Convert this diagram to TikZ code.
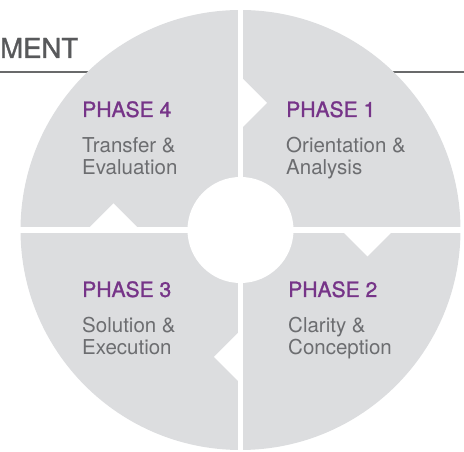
\documentclass[tikz,border=0pt]{standalone}
\usepackage{fontspec}
\setmainfont{TeX Gyre Heros}
\newfontfamily\medfont[FakeBold=1.2]{TeX Gyre Heros}
\usetikzlibrary{positioning}

\definecolor{quadgray}{RGB}{220,221,223}
\definecolor{phasepurple}{RGB}{118,52,136}
\definecolor{textgray}{RGB}{108,109,112}
\definecolor{headgray}{RGB}{88,89,91}

\begin{document}
\begin{tikzpicture}[x=0.03cm, y=0.03cm]

\tikzstyle{phase} = [anchor=base west, inner sep=0pt, text=phasepurple, font=\medfont\fontsize{18}{20}\selectfont]
\tikzstyle{desc} = [anchor=base west, inner sep=0pt, text=textgray, align=left, font=\fontsize{17.5}{18.8}\selectfont]
\tikzstyle{gap} = [white, line width=0.165cm]

\useasboundingbox (-240.5,-222) rectangle (223.5,230);

% heading and rule behind the wheel
\node[anchor=base west, inner sep=0pt, text=headgray, font=\medfont\fontsize{23.5}{25}\selectfont] (head) at (-240.5,172) {MENT};
\draw[headgray!90, line width=0.06cm] (-240.5,158) -- (223.5,158);

% wheel
\fill[quadgray] (0,0) circle (220);
\draw[gap] (-225,0) -- (225,0);
\draw[gap] (0,-225) -- (0,225);
\foreach \r in {0,-90,-180,-270}
    \fill[white, rotate=\r] (0,100.5) -- (26.5,127) -- (0,153.5) -- cycle;
\fill[white] (0,0) circle (53);

% labels (desc nodes sit on their last line)
\node[phase] (p4) at (-158.5,113) {PHASE 4};
\node[desc] (p4text) at (-158.5,55) {Transfer \&\\Evaluation};
\node[phase] (p1) at (45.5,113) {PHASE 1};
\node[desc] (p1text) at (45.5,55) {Orientation \&\\Analysis};
\node[phase] (p3) at (-158.5,-67) {PHASE 3};
\node[desc] (p3text) at (-158.5,-125) {Solution \&\\Execution};
\node[phase] (p2) at (47.5,-67) {PHASE 2};
\node[desc] (p2text) at (47.5,-125) {Clarity \&\\Conception};

\end{tikzpicture}
\end{document}
